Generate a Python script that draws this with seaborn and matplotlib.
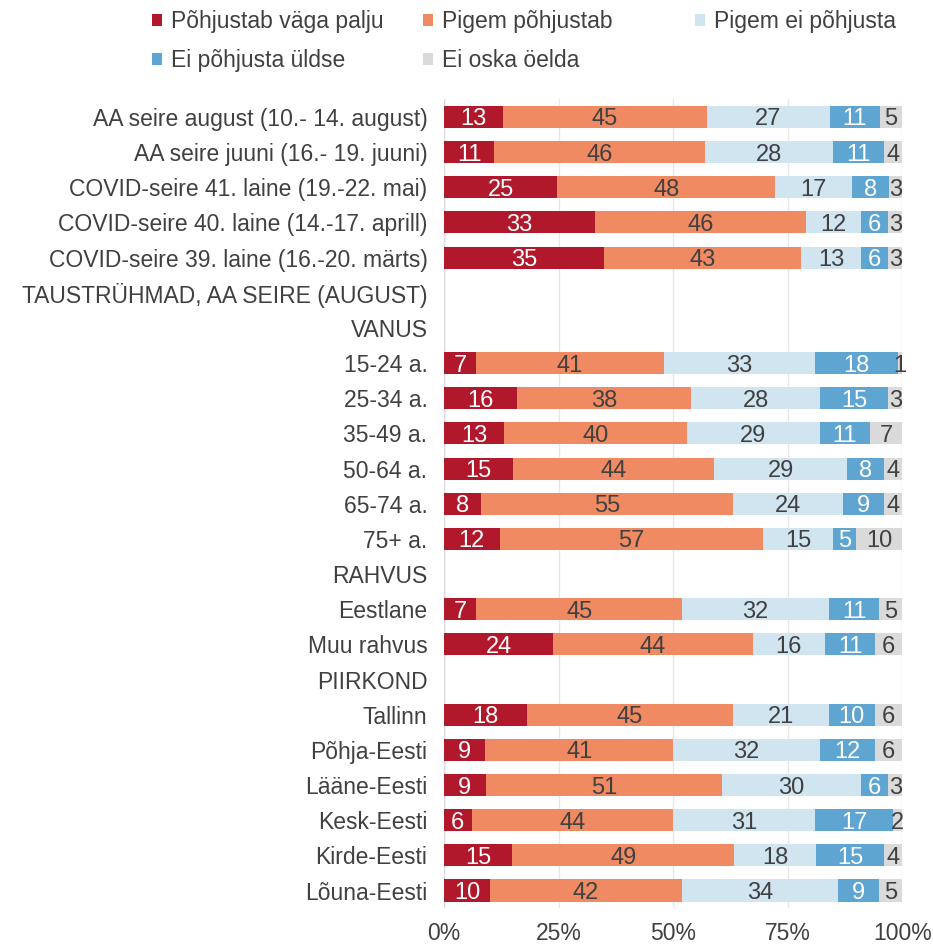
import numpy as np
import pandas as pd
import matplotlib
matplotlib.use("Agg")
import matplotlib.pyplot as plt
from matplotlib.patches import Patch
import seaborn as sns

# Categories (header rows carry no values)
categories = [
    "AA seire august (10.- 14. august)",
    "AA seire juuni (16.- 19. juuni)",
    "COVID-seire 41. laine (19.-22. mai)",
    "COVID-seire 40. laine (14.-17. aprill)",
    "COVID-seire 39. laine (16.-20. märts)",
    "TAUSTRÜHMAD, AA SEIRE (AUGUST)",
    "VANUS",
    "15-24 a.",
    "25-34 a.",
    "35-49 a.",
    "50-64 a.",
    "65-74 a.",
    "75+ a.",
    "RAHVUS",
    "Eestlane",
    "Muu rahvus",
    "PIIRKOND",
    "Tallinn",
    "Põhja-Eesti",
    "Lääne-Eesti",
    "Kesk-Eesti",
    "Kirde-Eesti",
    "Lõuna-Eesti",
]

series_names = ["Põhjustab väga palju", "Pigem põhjustab", "Pigem ei põhjusta",
                "Ei põhjusta üldse", "Ei oska öelda"]

# values per series, None for header rows
pohjustab_vaga = [13, 11, 25, 33, 35, None, None, 7, 16, 13, 15, 8, 12, None, 7, 24, None, 18, 9, 9, 6, 15, 10]
pigem_pohjustab = [45, 46, 48, 46, 43, None, None, 41, 38, 40, 44, 55, 57, None, 45, 44, None, 45, 41, 51, 44, 49, 42]
pigem_ei = [27, 28, 17, 12, 13, None, None, 33, 28, 29, 29, 24, 15, None, 32, 16, None, 21, 32, 30, 31, 18, 34]
ei_uldse = [11, 11, 8, 6, 6, None, None, 18, 15, 11, 8, 9, 5, None, 11, 11, None, 10, 12, 6, 17, 15, 9]
ei_oska = [5, 4, 3, 3, 3, None, None, 1, 3, 7, 4, 4, 10, None, 5, 6, None, 6, 6, 3, 2, 4, 5]

colors = ["#B2182B", "#EF8A62", "#D1E5F0", "#5FA5D2", "#DADADA"]
text_colors = ["white", "#404040", "#404040", "white", "#404040"]

sns.set_theme(style="white")
plt.rcParams["font.family"] = ["Liberation Sans", "DejaVu Sans"]

vals = pd.DataFrame({
    "cat": categories,
    "s0": pohjustab_vaga, "s1": pigem_pohjustab, "s2": pigem_ei,
    "s3": ei_uldse, "s4": ei_oska,
}).set_index("cat").astype(float)

# 100% stacked: share of row total
shares = vals.div(vals.sum(axis=1).replace(0, np.nan), axis=0) * 100
cum = shares.cumsum(axis=1).fillna(0)
starts = cum - shares.fillna(0)

fig = plt.figure(figsize=(9.33, 9.46), dpi=100)
ax = fig.add_axes([0.476, 0.040, 0.491, 0.855])

# draw cumulative totals from the last segment to the first
d = cum.reset_index()
for k in range(4, -1, -1):
    sns.barplot(data=d, y="cat", x=f"s{k}", order=categories, orient="h",
                color=colors[k], saturation=1, width=0.63, ax=ax, zorder=2,
                linewidth=0, edgecolor="none")

# value labels
for i, c in enumerate(categories):
    for k in range(5):
        v = vals.loc[c, f"s{k}"]
        if np.isnan(v):
            continue
        xc = starts.loc[c, f"s{k}"] + shares.loc[c, f"s{k}"] / 2
        ax.text(xc, i, f"{int(v)}", ha="center", va="center_baseline",
                fontsize=17, color=text_colors[k], zorder=3)

ax.set_xlim(0, 100)
ax.set_ylim(len(categories) - 0.5, -0.5)
ax.set_xticks([0, 25, 50, 75, 100])
ax.set_xticklabels(["0%", "25%", "50%", "75%", "100%"])
ax.xaxis.grid(True, color="#E6E6E6", linewidth=1, zorder=0)
ax.yaxis.grid(False)
ax.set_axisbelow(True)
for s in ax.spines.values():
    s.set_visible(False)
ax.axvline(0, color="#D9D9D9", linewidth=1, zorder=1)
ax.set_xlabel("")
ax.set_ylabel("")
ax.tick_params(axis="y", length=0, pad=12, labelsize=16.5, labelcolor="#404040")
ax.tick_params(axis="x", length=0, pad=10, labelsize=16.5, labelcolor="#404040")

# legend: first two columns, then the third column on its own
handles = [Patch(facecolor=colors[k], edgecolor="none", label=series_names[k]) for k in range(5)]
leg_kw = dict(loc="upper left", frameon=False, fontsize=16.5, handlelength=0.42,
              handleheight=0.42, handletextpad=0.4, labelspacing=0.68,
              labelcolor="#404040")
order = [0, 3, 1, 4]
fig.legend([handles[i] for i in order], [series_names[i] for i in order],
           ncol=2, bbox_to_anchor=(0.141, 1.011), columnspacing=1.72, **leg_kw)
fig.legend([handles[2]], [series_names[2]], ncol=1,
           bbox_to_anchor=(0.723, 1.011), **leg_kw)

fig.savefig("out.png", dpi=100, facecolor="white")
